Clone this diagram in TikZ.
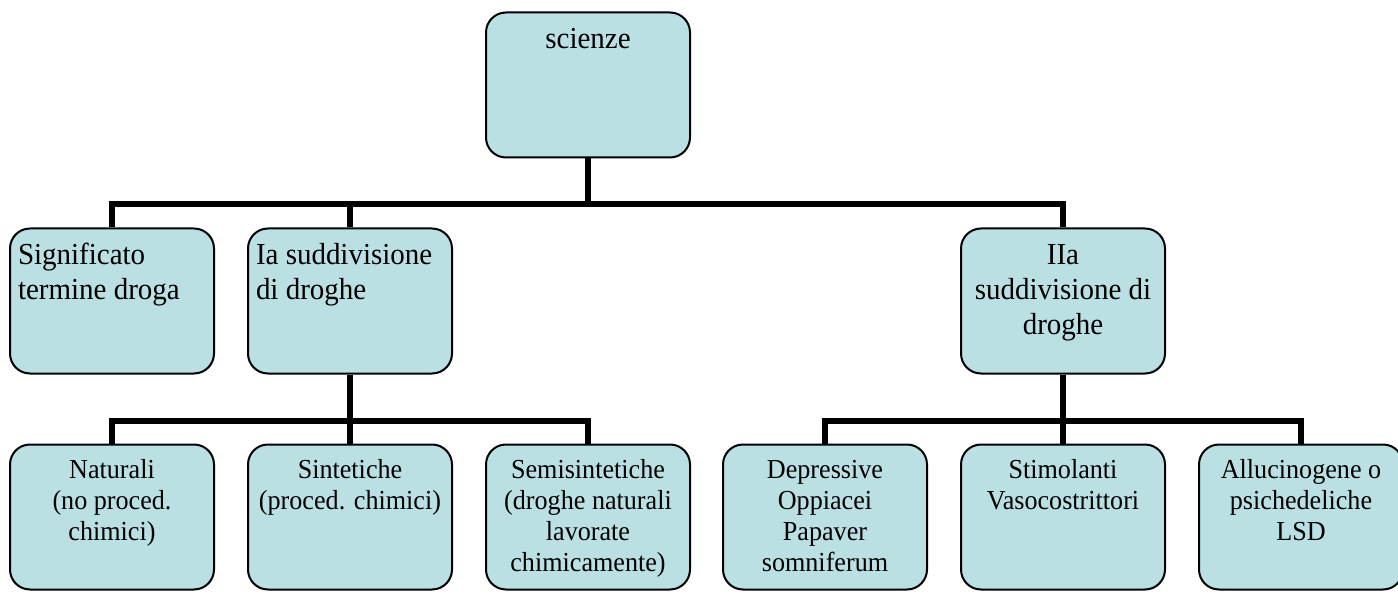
\documentclass[tikz,border=0pt]{standalone}
\usepackage{fontspec}
\setmainfont[FakeStretch=0.95]{Liberation Serif}
\definecolor{boxfill}{RGB}{187,224,227}
\tikzset{
  box/.style={draw=black, line width=2pt, rounded corners=20pt, fill=boxfill,
    minimum width=204pt, minimum height=145pt, inner xsep=8pt, inner ysep=12pt},
  conn/.style={draw=black, line width=5.5pt},
}
\newcommand\bigtxt{\fontsize{30.5}{34.8}\selectfont}
\newcommand\smalltxt{\fontsize{27.5}{31.2}\selectfont}
\newcommand\boxc[2]{\parbox[t][121pt][t]{188pt}{#1\centering\strut #2}}
\newcommand\boxl[2]{\parbox[t][121pt][t]{188pt}{#1\raggedright\strut #2}}
\begin{document}
\begin{tikzpicture}[x=1pt,y=-1pt]
\useasboundingbox (0,0) rectangle (1398,596);
\clip (0,0) rectangle (1398,596);
% top
\node[box] (sci) at (588,85) {\boxc{\bigtxt}{scienze}};
% row 2
\node[box] (sig) at (112,301) {\boxl{\bigtxt}{Significato\\termine droga}};
\node[box] (ia) at (350,301) {\boxl{\bigtxt}{Ia suddivisione\\di droghe}};
\node[box] (iia) at (1063,301) {\boxc{\bigtxt}{IIa\\suddivisione di\\droghe}};
% row 3
\node[box] (nat) at (112,517) {\boxc{\smalltxt}{Naturali\\(no proced.\\chimici)}};
\node[box] (sint) at (350,517) {\boxc{\smalltxt}{Sintetiche\\(proced. chimici)}};
\node[box] (semi) at (588,517) {\boxc{\smalltxt}{Semisintetiche\\(droghe naturali\\lavorate\\chimicamente)}};
\node[box] (dep) at (825,517) {\boxc{\smalltxt}{Depressive\\Oppiacei\\Papaver\\somniferum}};
\node[box] (stim) at (1063,517) {\boxc{\smalltxt}{Stimolanti\\Vasocostrittori}};
\node[box] (all) at (1301,517) {\boxc{\smalltxt}{Allucinogene o\\psichedeliche\\LSD}};
% connectors
\coordinate (j1) at (588,204);
\coordinate (j2) at (350,421);
\coordinate (j3) at (1063,421);
\draw[conn] (sci.south) -- (j1);
\draw[conn] (sig.north) |- (j1) -| (iia.north);
\draw[conn] (ia.north) -- (ia.north |- j1);
\draw[conn] (ia.south) -- (sint.north);
\draw[conn] (nat.north) |- (j2) -| (semi.north);
\draw[conn] (iia.south) -- (stim.north);
\draw[conn] (dep.north) |- (j3) -| (all.north);
\end{tikzpicture}
\end{document}
